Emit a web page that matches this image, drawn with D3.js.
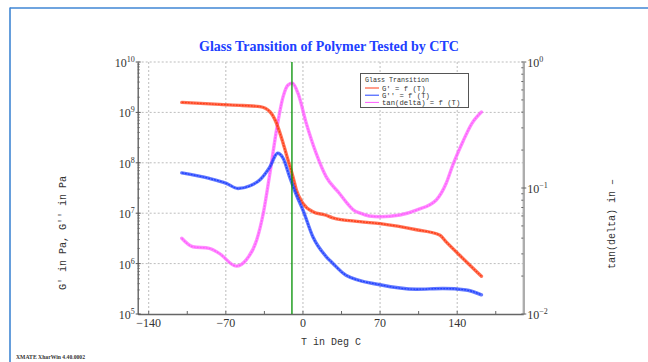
<!DOCTYPE html>
<html><head><meta charset="utf-8">
<script src="https://cdn.jsdelivr.net/npm/d3@7"></script>
<style>html,body{margin:0;padding:0;background:#fff;}svg{display:block;}</style>
</head><body>
<svg id="chart" width="648" height="362"></svg>
<script>
// ---- data ----
const storageT = [-110, -76, -55, -39, -30, -24, -18, -13.6, -9, -6, 0, 9, 21, 27, 51.5, 70, 103, 124, 130, 142, 162];
const storageG = [1.58e9, 1.44e9, 1.37e9, 1.30e9, 1.03e9, 6.1e8, 2.44e8, 1.14e8, 5.2e7, 2.9e7, 1.57e7, 1.07e7, 9.1e6, 8.1e6, 6.8e6, 6.2e6, 4.7e6, 3.7e6, 2.7e6, 1.48e6, 5.6e5];
const lossT = [-110, -85, -69.5, -59, -48, -39, -30, -23, -18, -12, -6, 0, 9, 21, 27, 39, 70, 103, 127, 148, 162];
const lossG = [6.3e7, 4.9e7, 3.9e7, 3.1e7, 3.5e7, 4.6e7, 8.3e7, 1.55e8, 1.23e8, 5.2e7, 2.3e7, 1.15e7, 3.4e6, 1.38e6, 1.02e6, 5.9e5, 3.8e5, 3.1e5, 3.2e5, 3.0e5, 2.4e5];
const tanT = [-110, -100, -85, -76, -60.5, -51.5, -42, -36, -30, -24, -18, -13.6, -9.6, -4.5, 3, 12, 21, 33, 40, 46, 52, 60, 70, 88, 103, 121, 130, 136, 145, 153, 162];
const tanD = [0.0399, 0.0342, 0.0332, 0.0303, 0.0240, 0.0269, 0.0386, 0.0630, 0.131, 0.288, 0.531, 0.656, 0.678, 0.565, 0.326, 0.188, 0.123, 0.0908, 0.0759, 0.0668, 0.0631, 0.0600, 0.0592, 0.0611, 0.0668, 0.0804, 0.109, 0.152, 0.232, 0.322, 0.401];
const xTicks = [-140, -70, 0, 70, 140];
const xMinor = [-140, -105, -70, -35, 0, 35, 70, 105, 140, 175];
const leftExp = [5, 6, 7, 8, 9, 10];
const rightExp = [-2, -1, 0];
const glassT = -10;
const titleText = "Glass Transition of Polymer Tested by CTC";
const xLabel = "T in Deg C";
const yLeftLabel = "G' in Pa, G'' in Pa";
const yRightLabel = "tan(delta) in \u2013";
const legendTitle = "Glass Transition";
const legendNames = ["G' = f (T)", "G'' = f (T)", "tan(delta) = f (T)"];
const seriesColors = ["#ff3b14", "#2040ff", "#ff5cff"];

// ---- scales ----
const L = 137.7, R = 523.3, T = 62, B = 314;
const x = d3.scaleLinear().domain([-150, 200]).range([L, R]);
const yL = d3.scaleLog().domain([1e5, 1e10]).range([B, T]);
const yR = d3.scaleLog().domain([0.01, 1]).range([B, T]);

const svg = d3.select("#chart");
const serif = "'Liberation Serif', 'Times New Roman', serif";
const mono = "'Liberation Mono', 'DejaVu Sans Mono', monospace";

// frame
svg.append("line").attr("x1", 10).attr("x2", 10).attr("y1", 7.5).attr("y2", 362).attr("stroke", "#3f86d4").attr("stroke-width", 1.6);
svg.append("line").attr("x1", 10).attr("x2", 648).attr("y1", 8).attr("y2", 8).attr("stroke", "#3f86d4").attr("stroke-width", 1.6);

// title
svg.append("text").attr("x", 329).attr("y", 51).attr("text-anchor", "middle")
  .attr("font-family", serif).attr("font-weight", "bold").attr("font-size", 14)
  .attr("fill", "#2040ff").text(titleText);

// grid
const grid = svg.append("g").attr("stroke", "#bdbdbd").attr("stroke-width", 1).attr("stroke-dasharray", "2,2");
xTicks.forEach(t => grid.append("line").attr("x1", x(t)).attr("x2", x(t)).attr("y1", T).attr("y2", B));
leftExp.filter(e => e > 5).forEach(e => grid.append("line").attr("x1", L).attr("x2", R).attr("y1", yL(Math.pow(10, e))).attr("y2", yL(Math.pow(10, e))));

// axes
const xAxis = d3.axisBottom(x).tickValues(xMinor).tickSize(0).tickFormat("");
const gx = svg.append("g").attr("transform", `translate(0,${B})`).call(xAxis);
gx.select(".domain").attr("stroke", "#666").attr("stroke-width", 1.3);
xMinor.forEach(t => svg.append("line").attr("x1", x(t)).attr("x2", x(t)).attr("y1", B).attr("y2", B - 3).attr("stroke", "#666"));
xTicks.forEach(t => svg.append("text").attr("x", x(t)).attr("y", B + 13).attr("text-anchor", "middle")
  .attr("font-family", serif).attr("font-size", 12).attr("fill", "#333")
  .text(t < 0 ? "\u2212" + Math.abs(t) : String(t)));

// left axis
const gyl = svg.append("g").attr("transform", `translate(${L},0)`).call(d3.axisLeft(yL).tickValues([]).tickSize(0));
gyl.select(".domain").attr("stroke", "#555").attr("stroke-width", 1.3);
const leftMinor = [];
for (let e = 5; e < 10; e++) for (let m = 2; m <= 9; m++) leftMinor.push(m * Math.pow(10, e));
leftMinor.forEach(v => svg.append("line").attr("x1", L).attr("x2", L + 2).attr("y1", yL(v)).attr("y2", yL(v)).attr("stroke", "#666"));
leftExp.forEach(e => {
  const yy = yL(Math.pow(10, e));
  svg.append("line").attr("x1", L - 2).attr("x2", L + 3).attr("y1", yy).attr("y2", yy).attr("stroke", "#555");
  const t = svg.append("text").attr("x", L - 3).attr("y", yy + 5).attr("text-anchor", "end")
    .attr("font-family", serif).attr("font-size", 12).attr("fill", "#333");
  t.append("tspan").text("10");
  t.append("tspan").attr("dy", -5).attr("font-size", 8).text(String(e));
});

// right axis
const gyr = svg.append("g").attr("transform", `translate(${R},0)`).call(d3.axisRight(yR).tickValues([]).tickSize(0));
gyr.select(".domain").attr("stroke", "#adadad").attr("stroke-width", 2.4);
const rightMinor = [];
for (let e = -2; e < 0; e++) for (let m = 2; m <= 9; m++) rightMinor.push(m * Math.pow(10, e));
rightMinor.forEach(v => svg.append("line").attr("x1", R - 2).attr("x2", R).attr("y1", yR(v)).attr("y2", yR(v)).attr("stroke", "#666"));
rightExp.forEach(e => {
  const yy = yR(Math.pow(10, e));
  svg.append("line").attr("x1", R - 2).attr("x2", R + 3).attr("y1", yy).attr("y2", yy).attr("stroke", "#666");
  const t = svg.append("text").attr("x", R + 4).attr("y", yy + 5).attr("text-anchor", "start")
    .attr("font-family", serif).attr("font-size", 12).attr("fill", "#333");
  t.append("tspan").text("10");
  t.append("tspan").attr("dy", -5).attr("font-size", 8).text(e === 0 ? "0" : "\u2212" + Math.abs(e));
});

// axis labels
svg.append("text").attr("x", 331).attr("y", 345).attr("text-anchor", "middle")
  .attr("font-family", mono).attr("font-size", 11.5).attr("fill", "#333")
  .attr("textLength", 60).attr("lengthAdjust", "spacingAndGlyphs").text(xLabel);
svg.append("text").attr("transform", "translate(66,233) rotate(-90)").attr("text-anchor", "middle")
  .attr("font-family", mono).attr("font-size", 11.5).attr("fill", "#333")
  .attr("textLength", 114).attr("lengthAdjust", "spacingAndGlyphs").text(yLeftLabel);
svg.append("text").attr("transform", "translate(615,224) rotate(-90)").attr("text-anchor", "middle")
  .attr("font-family", mono).attr("font-size", 11.5).attr("fill", "#333")
  .attr("textLength", 90).attr("lengthAdjust", "spacingAndGlyphs").text(yRightLabel);

// footer
svg.append("text").attr("x", 16).attr("y", 359).attr("font-family", serif).attr("font-weight", "bold")
  .attr("font-size", 6).attr("fill", "#333").attr("textLength", 69).attr("lengthAdjust", "spacingAndGlyphs")
  .text("XMATE XharWin 4.40.0002");

// series
svg.append("clipPath").attr("id", "pc").append("rect").attr("x", L).attr("y", T - 4).attr("width", R - L).attr("height", B - T + 4);
const plot = svg.append("g").attr("clip-path", "url(#pc)");
function drawSeries(ts, vs, ys, color) {
  const data = ts.map((t, i) => [t, vs[i]]);
  const line = d3.line().x(d => x(d[0])).y(d => ys(d[1])).curve(d3.curveMonotoneX);
  plot.append("path").attr("d", line(data)).attr("fill", "none").attr("stroke", color)
    .attr("stroke-width", 3.4).attr("stroke-opacity", 0.7).attr("stroke-linecap", "round");
  plot.append("path").attr("d", line(data)).attr("fill", "none").attr("stroke", color)
    .attr("stroke-width", 1.3).attr("stroke-dasharray", "2,1");
}
drawSeries(tanT, tanD, yR, seriesColors[2]);
drawSeries(storageT, storageG, yL, seriesColors[0]);
drawSeries(lossT, lossG, yL, seriesColors[1]);

// glass transition line
svg.append("line").attr("x1", x(glassT)).attr("x2", x(glassT)).attr("y1", T).attr("y2", B)
  .attr("stroke", "#009000").attr("stroke-width", 1.3);

// legend
const lg = svg.append("g");
lg.append("rect").attr("x", 360.5).attr("y", 73.5).attr("width", 108).attr("height", 34)
  .attr("fill", "#fff").attr("stroke", "#555").attr("stroke-width", 1);
lg.append("text").attr("x", 365).attr("y", 82).attr("font-family", mono).attr("font-size", 7)
  .attr("fill", "#333").attr("textLength", 64).attr("lengthAdjust", "spacingAndGlyphs").text(legendTitle);
legendNames.forEach((n, i) => {
  const yy = 88 + i * 7.2;
  lg.append("line").attr("x1", 365).attr("x2", 379).attr("y1", yy).attr("y2", yy).attr("stroke", seriesColors[i]).attr("stroke-width", 1);
  lg.append("text").attr("x", 382).attr("y", yy + 2.5).attr("font-family", mono).attr("font-size", 7)
    .attr("fill", "#333").attr("textLength", n.length * 4.35).attr("lengthAdjust", "spacingAndGlyphs").text(n);
});
</script>
</body></html>
